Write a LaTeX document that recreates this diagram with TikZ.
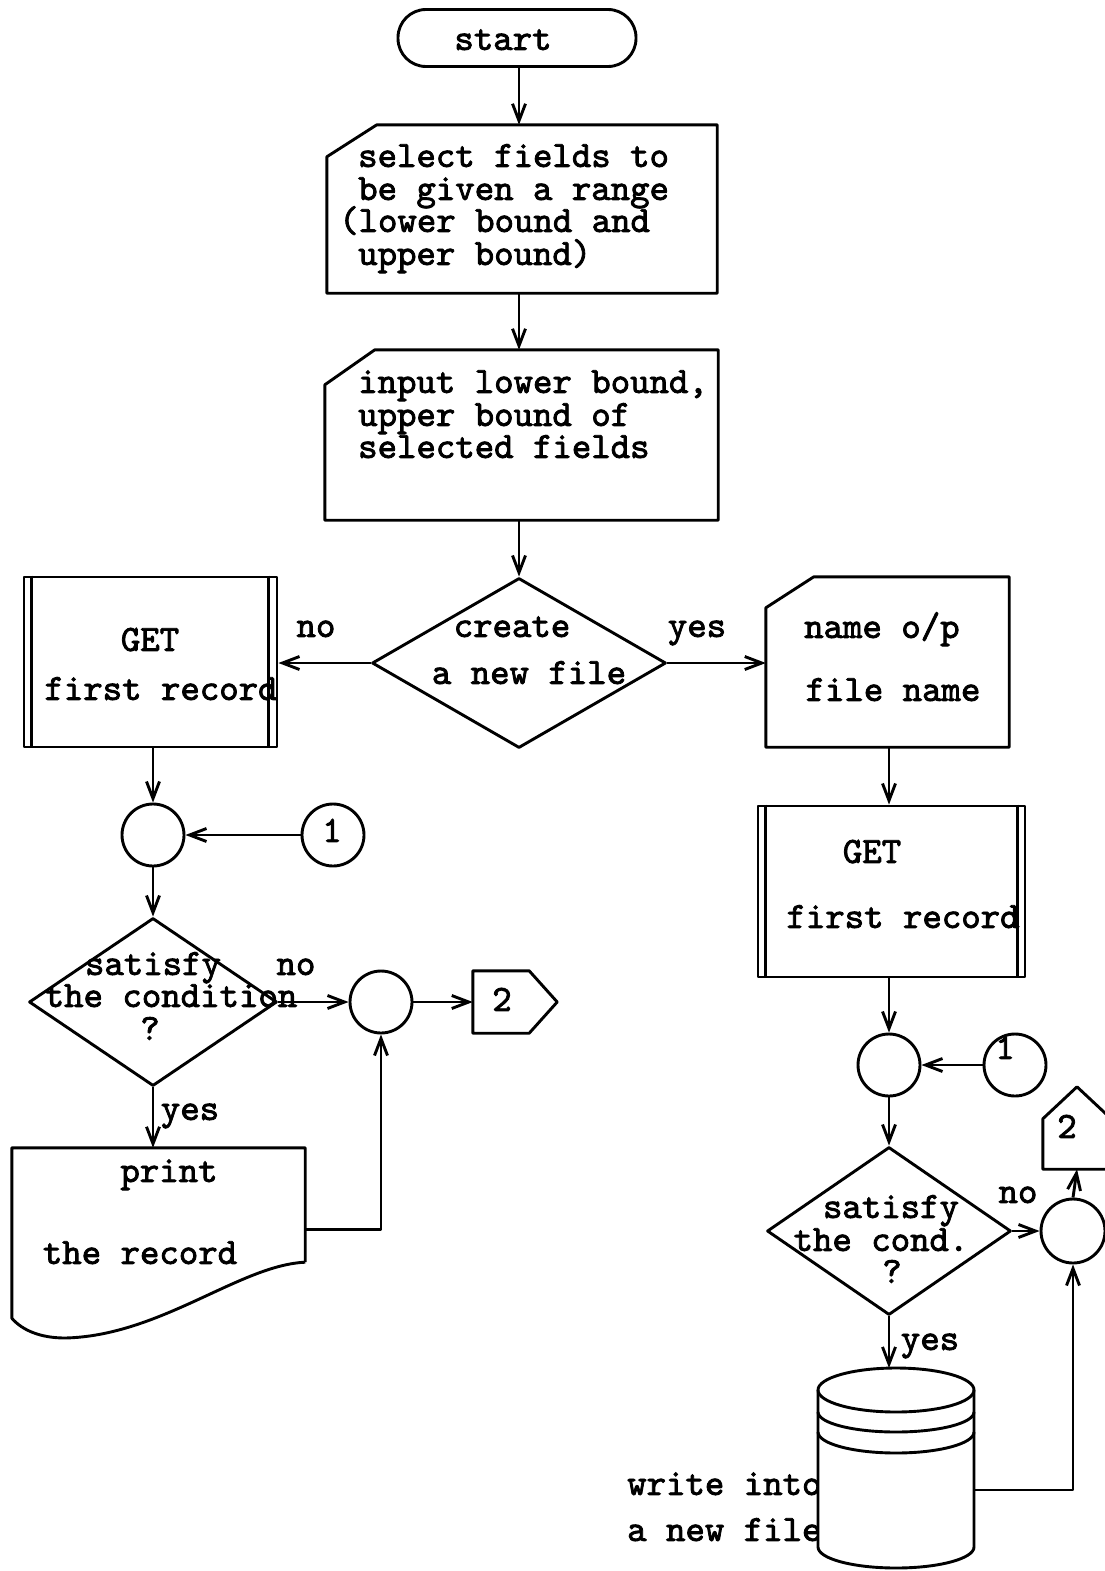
\documentclass[tikz,border=0pt]{standalone}
\usepackage{fontspec}
\setmonofont{lmmono10-regular.otf}[FakeBold=2.2]
\usetikzlibrary{shapes.geometric,arrows.meta,calc}
\tikzset{
  ln/.style={line width=2.9pt, line join=round},
  arr/.style={ln,-{Straight Barb[length=17pt,width=13pt]}},
  txt/.style={font=\fontsize{37}{33}\selectfont\ttfamily, inner sep=0pt, text height=0.5em, text depth=0.12em, yshift=-8pt},
  ltxt/.style={txt, anchor=west},
  circ/.style={ln, draw, circle, minimum size=62pt, inner sep=0pt},
  boxarea/.style={rectangle, inner sep=0pt, minimum width=#1},
  dia/.style={ln, draw, diamond, inner sep=0pt},
  getbox/.style={ln, draw, rectangle, inner sep=0pt}
}
\begin{document}
\begin{tikzpicture}[x=1pt,y=-1pt]
\fill[white] (0,0) rectangle (1105,1571);
\useasboundingbox (0,0) rectangle (1105,1571);

% ---------- top column ----------
\node[ln, draw, rectangle, rounded corners=28pt, minimum width=238pt, minimum height=57pt] (start) at (517,38) {};
\node[txt] (tstart) at (503,40) {start};

\node[boxarea=390pt, minimum height=168pt] (sel) at (522,209) {};
\draw[ln] ($(sel.north west)+(50,0)$) -- (sel.north east) -- (sel.south east) -- (sel.south west) -- ($(sel.north west)+(0,32)$) -- cycle;
\node[ltxt] (s1) at (358,157) {select fields to};
\node[ltxt] (s2) at (358,190) {be given a range};
\node[ltxt] (s3) at (339,222) {(lower bound and};
\node[ltxt] (s4) at (358,255) {upper bound)};

\node[boxarea=393pt, minimum height=170pt] (inp) at (521.5,435) {};
\draw[ln] ($(inp.north west)+(50,0)$) -- (inp.north east) -- (inp.south east) -- (inp.south west) -- ($(inp.north west)+(0,35)$) -- cycle;
\node[ltxt] (i1) at (358,383) {input lower bound,};
\node[ltxt] (i2) at (358,416) {upper bound of};
\node[ltxt] (i3) at (358,448) {selected fields};

\node[dia, minimum width=294pt, minimum height=170pt] (dec1) at (519,663) {};
\node[txt] (d1a) at (512,627) {create};
\node[txt] (d1b) at (529,674) {a new file};
\node[txt] (lno1) at (316,627) {no};
\node[txt] (lyes1) at (697,627) {yes};

\draw[arr] (start.south -| dec1.north) -- (dec1.north |- sel.north);
\draw[arr] (dec1.north |- sel.south) -- (dec1.north |- inp.north);
\draw[arr] (dec1.north |- inp.south) -- (dec1.north);

% ---------- left branch ----------
\node[getbox, minimum width=253pt, minimum height=170pt] (get1) at (150.5,662) {};
\draw[ln] ($(get1.north west)+(9,0)$) -- ($(get1.south west)+(9,0)$);
\draw[ln] ($(get1.north east)+(-10,0)$) -- ($(get1.south east)+(-10,0)$);
\node[txt] (g1a) at (150,641) {GET};
\node[txt] (g1b) at (161,690) {first record};

\draw[arr] (dec1.west) -- (get1.east |- dec1.west);

\node[circ] (j1) at (153,835) {};
\node[circ] (c1) at (333,835) {};
\node[txt] (c1t) at (332,832) {1};
\draw[arr] (j1.north |- get1.south) -- (j1.north);
\draw[arr] (c1.west) -- (j1.east);

\node[dia, minimum width=248pt, minimum height=168pt] (dec2) at (153,1002) {};
\node[txt] (d2a) at (153,965) {satisfy};
\node[txt] (d2b) at (171,997) {the condition};
\node[txt] (d2c) at (150,1030) {?};
\node[txt] (lno2) at (296,965) {no};
\draw[arr] (j1.south) -- (dec2.north);

\node[circ] (j2) at (381,1002) {};
\draw[arr] (dec2.east) -- (j2.west);

\node[boxarea=84pt, minimum height=62pt] (p2a) at (515,1002) {};
\draw[ln] (p2a.north west) -- ($(p2a.north east)+(-28,0)$) -- (p2a.east) -- ($(p2a.south east)+(-28,0)$) -- (p2a.south west) -- cycle;
\node[txt] (p2at) at (502,1001) {2};
\draw[arr] (j2.east) -- (p2a.west);

\node[boxarea=293pt, minimum height=114pt] (print) at (158.5,1205) {};
\draw[ln] (print.south east) -- (print.north east) -- (print.north west) -- ($(print.south west)+(0,56)$)
   .. controls (22,1330) and (40,1338) .. (65,1338)
   .. controls (160,1336) and (240,1265) .. (print.south east);
\node[txt] (pr1) at (169,1172) {print};
\node[txt] (pr2) at (140,1254) {the record};
\node[txt] (lyes2) at (190,1110) {yes};
\draw[arr] (dec2.south) -- (dec2.south |- print.north);
\coordinate (prout) at ($(print.north east)+(0,82)$);
\draw[arr] (prout) -| (j2.south);

% ---------- right branch ----------
\node[boxarea=243pt, minimum height=170pt] (name) at (887.5,662) {};
\draw[ln] ($(name.north west)+(48,0)$) -- (name.north east) -- (name.south east) -- (name.south west) -- ($(name.north west)+(0,31)$) -- cycle;
\node[ltxt] (n1) at (804,628) {name o/p};
\node[txt] (n2) at (893,691) {file name};
\draw[arr] (dec1.east) -- (name.west |- dec1.east);

\node[getbox, minimum width=267pt, minimum height=171pt] (get2) at (891.5,891.5) {};
\draw[ln] ($(get2.north west)+(9,0)$) -- ($(get2.south west)+(9,0)$);
\draw[ln] ($(get2.north east)+(-9,0)$) -- ($(get2.south east)+(-9,0)$);
\node[txt] (g2a) at (872,853) {GET};
\node[txt] (g2b) at (903,918) {first record};
\coordinate (nameout) at (889,747);
\draw[arr] (nameout) -- (nameout |- get2.north);

\node[circ] (j3) at (889,1065) {};
\node[circ] (c1b) at (1015,1065) {};
\node[txt] (c1bt) at (1005,1049) {1};
\draw[arr] (j3.north |- get2.south) -- (j3.north);
\draw[arr] (c1b.west) -- (j3.east);

\node[dia, minimum width=244pt, minimum height=168pt] (dec3) at (889,1231) {};
\node[txt] (d3a) at (891,1208) {satisfy};
\node[txt] (d3b) at (881,1241) {the cond.};
\node[txt] (d3c) at (892,1273) {?};
\node[txt] (lno3) at (1018,1193) {no};
\draw[arr] (j3.south) -- (dec3.north);

\node[ln, draw, circle, minimum size=64pt, inner sep=0pt] (j4) at (1073,1231) {};
\draw[arr] (dec3.east) -- (j4.west);

\node[boxarea=68pt, minimum height=82pt] (p2b) at (1077,1128) {};
\draw[ln] (p2b.south west) -- ($(p2b.north west)+(0,32)$) -- (p2b.north) -- ($(p2b.north east)+(0,32)$) -- (p2b.south east) -- cycle;
\node[txt] (p2bt) at (1067,1128) {2};
\draw[arr] (j4.north) -- (p2b.south);

% database
\node[txt, anchor=west] (w1) at (627,1485) {write into};
\node[txt, anchor=west] (w2) at (627,1531) {a new file};
\coordinate (dbtop) at (889,1368);
\fill[white] (818,1390) -- (818,1547) arc[start angle=180,end angle=360,x radius=78pt,y radius=21pt] -- (974,1390) -- cycle;
\draw[ln] (896,1390) ellipse [x radius=78pt, y radius=22pt];
\draw[ln] (818,1412) arc[start angle=180,end angle=360,x radius=78pt,y radius=20pt];
\draw[ln] (818,1432) arc[start angle=180,end angle=360,x radius=78pt,y radius=21pt];
\draw[ln] (818,1390) -- (818,1547) arc[start angle=180,end angle=360,x radius=78pt,y radius=21pt] -- (974,1390);
\node[txt] (lyes3) at (930,1340) {yes};
\draw[arr] (dec3.south) -- (dec3.south |- dbtop);
\coordinate (dbout) at (974,1490);
\draw[arr] (dbout) -| (j4.south);
\end{tikzpicture}
\end{document}
